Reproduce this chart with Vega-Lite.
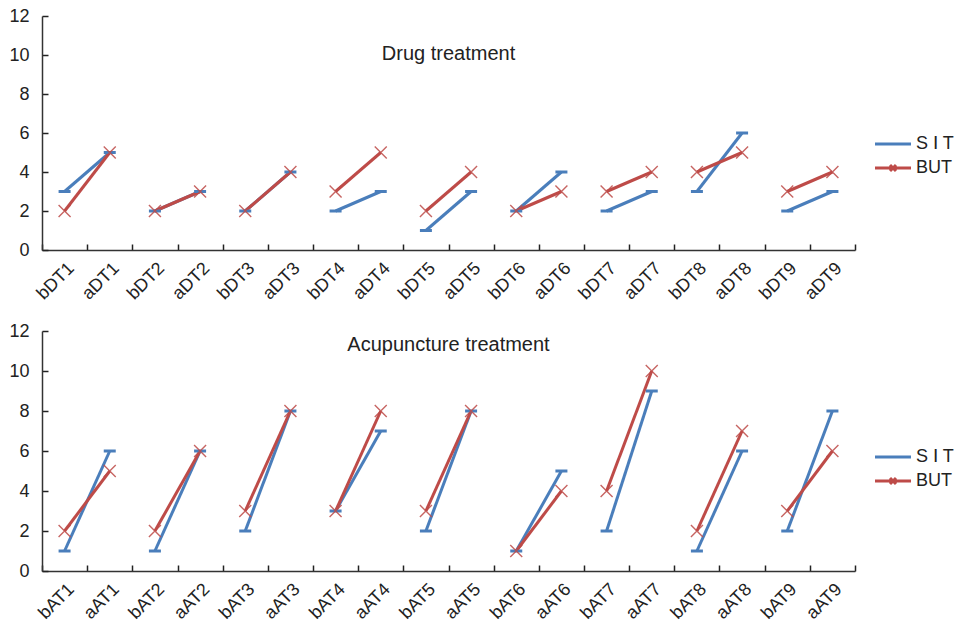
{
  "$schema": "https://vega.github.io/schema/vega-lite/v6.json",
  "padding": {"left": 8, "top": 7, "right": 0, "bottom": 0},
  "background": "white",
  "config": {
    "font": "Liberation Sans",
    "view": {"stroke": null},
    "axis": {
      "domainColor": "#333333",
      "domainWidth": 1.5,
      "tickColor": "#222222",
      "tickWidth": 1.5,
      "tickSize": -6,
      "grid": false,
      "labelFont": "Liberation Sans",
      "labelFontSize": 18,
      "labelColor": "#222222",
      "title": null
    },
    "legend": {
      "labelFont": "Liberation Sans",
      "labelFontSize": 18,
      "labelColor": "#222222"
    }
  },
  "datasets": {
    "drug": [
      {"n": 1, "x": "bDT1", "s": "S Ⅰ T", "v": 3}, {"n": 1, "x": "aDT1", "s": "S Ⅰ T", "v": 5},
      {"n": 1, "x": "bDT1", "s": "BUT", "v": 2}, {"n": 1, "x": "aDT1", "s": "BUT", "v": 5},
      {"n": 2, "x": "bDT2", "s": "S Ⅰ T", "v": 2}, {"n": 2, "x": "aDT2", "s": "S Ⅰ T", "v": 3},
      {"n": 2, "x": "bDT2", "s": "BUT", "v": 2}, {"n": 2, "x": "aDT2", "s": "BUT", "v": 3},
      {"n": 3, "x": "bDT3", "s": "S Ⅰ T", "v": 2}, {"n": 3, "x": "aDT3", "s": "S Ⅰ T", "v": 4},
      {"n": 3, "x": "bDT3", "s": "BUT", "v": 2}, {"n": 3, "x": "aDT3", "s": "BUT", "v": 4},
      {"n": 4, "x": "bDT4", "s": "S Ⅰ T", "v": 2}, {"n": 4, "x": "aDT4", "s": "S Ⅰ T", "v": 3},
      {"n": 4, "x": "bDT4", "s": "BUT", "v": 3}, {"n": 4, "x": "aDT4", "s": "BUT", "v": 5},
      {"n": 5, "x": "bDT5", "s": "S Ⅰ T", "v": 1}, {"n": 5, "x": "aDT5", "s": "S Ⅰ T", "v": 3},
      {"n": 5, "x": "bDT5", "s": "BUT", "v": 2}, {"n": 5, "x": "aDT5", "s": "BUT", "v": 4},
      {"n": 6, "x": "bDT6", "s": "S Ⅰ T", "v": 2}, {"n": 6, "x": "aDT6", "s": "S Ⅰ T", "v": 4},
      {"n": 6, "x": "bDT6", "s": "BUT", "v": 2}, {"n": 6, "x": "aDT6", "s": "BUT", "v": 3},
      {"n": 7, "x": "bDT7", "s": "S Ⅰ T", "v": 2}, {"n": 7, "x": "aDT7", "s": "S Ⅰ T", "v": 3},
      {"n": 7, "x": "bDT7", "s": "BUT", "v": 3}, {"n": 7, "x": "aDT7", "s": "BUT", "v": 4},
      {"n": 8, "x": "bDT8", "s": "S Ⅰ T", "v": 3}, {"n": 8, "x": "aDT8", "s": "S Ⅰ T", "v": 6},
      {"n": 8, "x": "bDT8", "s": "BUT", "v": 4}, {"n": 8, "x": "aDT8", "s": "BUT", "v": 5},
      {"n": 9, "x": "bDT9", "s": "S Ⅰ T", "v": 2}, {"n": 9, "x": "aDT9", "s": "S Ⅰ T", "v": 3},
      {"n": 9, "x": "bDT9", "s": "BUT", "v": 3}, {"n": 9, "x": "aDT9", "s": "BUT", "v": 4}
    ],
    "acu": [
      {"n": 1, "x": "bAT1", "s": "S Ⅰ T", "v": 1}, {"n": 1, "x": "aAT1", "s": "S Ⅰ T", "v": 6},
      {"n": 1, "x": "bAT1", "s": "BUT", "v": 2}, {"n": 1, "x": "aAT1", "s": "BUT", "v": 5},
      {"n": 2, "x": "bAT2", "s": "S Ⅰ T", "v": 1}, {"n": 2, "x": "aAT2", "s": "S Ⅰ T", "v": 6},
      {"n": 2, "x": "bAT2", "s": "BUT", "v": 2}, {"n": 2, "x": "aAT2", "s": "BUT", "v": 6},
      {"n": 3, "x": "bAT3", "s": "S Ⅰ T", "v": 2}, {"n": 3, "x": "aAT3", "s": "S Ⅰ T", "v": 8},
      {"n": 3, "x": "bAT3", "s": "BUT", "v": 3}, {"n": 3, "x": "aAT3", "s": "BUT", "v": 8},
      {"n": 4, "x": "bAT4", "s": "S Ⅰ T", "v": 3}, {"n": 4, "x": "aAT4", "s": "S Ⅰ T", "v": 7},
      {"n": 4, "x": "bAT4", "s": "BUT", "v": 3}, {"n": 4, "x": "aAT4", "s": "BUT", "v": 8},
      {"n": 5, "x": "bAT5", "s": "S Ⅰ T", "v": 2}, {"n": 5, "x": "aAT5", "s": "S Ⅰ T", "v": 8},
      {"n": 5, "x": "bAT5", "s": "BUT", "v": 3}, {"n": 5, "x": "aAT5", "s": "BUT", "v": 8},
      {"n": 6, "x": "bAT6", "s": "S Ⅰ T", "v": 1}, {"n": 6, "x": "aAT6", "s": "S Ⅰ T", "v": 5},
      {"n": 6, "x": "bAT6", "s": "BUT", "v": 1}, {"n": 6, "x": "aAT6", "s": "BUT", "v": 4},
      {"n": 7, "x": "bAT7", "s": "S Ⅰ T", "v": 2}, {"n": 7, "x": "aAT7", "s": "S Ⅰ T", "v": 9},
      {"n": 7, "x": "bAT7", "s": "BUT", "v": 4}, {"n": 7, "x": "aAT7", "s": "BUT", "v": 10},
      {"n": 8, "x": "bAT8", "s": "S Ⅰ T", "v": 1}, {"n": 8, "x": "aAT8", "s": "S Ⅰ T", "v": 6},
      {"n": 8, "x": "bAT8", "s": "BUT", "v": 2}, {"n": 8, "x": "aAT8", "s": "BUT", "v": 7},
      {"n": 9, "x": "bAT9", "s": "S Ⅰ T", "v": 2}, {"n": 9, "x": "aAT9", "s": "S Ⅰ T", "v": 8},
      {"n": 9, "x": "bAT9", "s": "BUT", "v": 3}, {"n": 9, "x": "aAT9", "s": "BUT", "v": 6}
    ]
  },
  "spacing": 19,
  "resolve": {"scale": {"x": "independent"}, "legend": {"color": "independent"}},
  "vconcat": [
    {
      "width": 813,
      "height": 234,
      "data": {"name": "drug"},
      "title": {"text": "Drug treatment", "offset": -73, "frame": "group", "baseline": "alphabetic", "anchor": "middle", "fontSize": 20, "fontWeight": "normal", "font": "Liberation Sans", "color": "#222222"},
      "encoding": {
        "x": {
          "field": "x", "type": "nominal",
          "scale": {"type": "band", "paddingInner": 0, "paddingOuter": 0,
            "domain": ["bDT1","aDT1","bDT2","aDT2","bDT3","aDT3","bDT4","aDT4","bDT5","aDT5","bDT6","aDT6","bDT7","aDT7","bDT8","aDT8","bDT9","aDT9"]},
          "axis": {"labelAngle": -45, "tickBand": "extent", "labelPadding": 15}
        },
        "y": {
          "field": "v", "type": "quantitative",
          "scale": {"domain": [0, 12], "nice": false},
          "axis": {"values": [0, 2, 4, 6, 8, 10, 12], "labelPadding": 19}
        },
        "color": {
          "field": "s", "type": "nominal",
          "scale": {"domain": ["S Ⅰ T", "BUT"], "range": ["#4a7ebb", "#be4b48"]},
          "legend": {
            "title": null, "orient": "none", "legendX": 842, "legendY": 119,
            "padding": 0, "symbolSize": 144, "symbolStrokeWidth": 3, "labelOffset": 14, "rowPadding": 6,
            "encode": {"symbols": {"update": {
              "shape": {"signal": "datum.label === 'BUT' ? 'M-3,0L3,0M-0.5,-0.5L0.5,0.5M-0.5,0.5L0.5,-0.5' : 'M-3,0L3,0'"},
              "strokeWidth": {"value": 3},
              "fill": {"value": "transparent"},
              "opacity": {"value": 1}
            }}}
          }
        }
      },
      "layer": [
        {"mark": {"type": "line", "strokeWidth": 3}, "encoding": {"detail": {"field": "n", "type": "nominal"}}},
        {"transform": [{"filter": "datum.s !== 'BUT'"}], "mark": {"type": "point", "shape": "M-1,0L1,0", "size": 144, "strokeWidth": 3, "filled": false, "opacity": 1}},
        {"transform": [{"filter": "datum.s === 'BUT'"}], "mark": {"type": "point", "shape": "M-1,-1L1,1M-1,1L1,-1", "size": 144, "strokeWidth": 1.4, "filled": false, "opacity": 0.85}}
      ]
    },
    {
      "width": 813,
      "height": 240,
      "data": {"name": "acu"},
      "title": {"text": "Acupuncture treatment", "offset": -49, "frame": "group", "baseline": "alphabetic", "anchor": "middle", "fontSize": 20, "fontWeight": "normal", "font": "Liberation Sans", "color": "#222222"},
      "encoding": {
        "x": {
          "field": "x", "type": "nominal",
          "scale": {"type": "band", "paddingInner": 0, "paddingOuter": 0,
            "domain": ["bAT1","aAT1","bAT2","aAT2","bAT3","aAT3","bAT4","aAT4","bAT5","aAT5","bAT6","aAT6","bAT7","aAT7","bAT8","aAT8","bAT9","aAT9"]},
          "axis": {"labelAngle": -45, "tickBand": "extent", "labelPadding": 15}
        },
        "y": {
          "field": "v", "type": "quantitative",
          "scale": {"domain": [0, 12], "nice": false},
          "axis": {"values": [0, 2, 4, 6, 8, 10, 12], "labelPadding": 19}
        },
        "color": {
          "field": "s", "type": "nominal",
          "scale": {"domain": ["S Ⅰ T", "BUT"], "range": ["#4a7ebb", "#be4b48"]},
          "legend": {
            "title": null, "orient": "none", "legendX": 842, "legendY": 117,
            "padding": 0, "symbolSize": 144, "symbolStrokeWidth": 3, "labelOffset": 14, "rowPadding": 6,
            "encode": {"symbols": {"update": {
              "shape": {"signal": "datum.label === 'BUT' ? 'M-3,0L3,0M-0.5,-0.5L0.5,0.5M-0.5,0.5L0.5,-0.5' : 'M-3,0L3,0'"},
              "strokeWidth": {"value": 3},
              "fill": {"value": "transparent"},
              "opacity": {"value": 1}
            }}}
          }
        }
      },
      "layer": [
        {"mark": {"type": "line", "strokeWidth": 3}, "encoding": {"detail": {"field": "n", "type": "nominal"}}},
        {"transform": [{"filter": "datum.s !== 'BUT'"}], "mark": {"type": "point", "shape": "M-1,0L1,0", "size": 144, "strokeWidth": 3, "filled": false, "opacity": 1}},
        {"transform": [{"filter": "datum.s === 'BUT'"}], "mark": {"type": "point", "shape": "M-1,-1L1,1M-1,1L1,-1", "size": 144, "strokeWidth": 1.4, "filled": false, "opacity": 0.85}}
      ]
    }
  ]
}
